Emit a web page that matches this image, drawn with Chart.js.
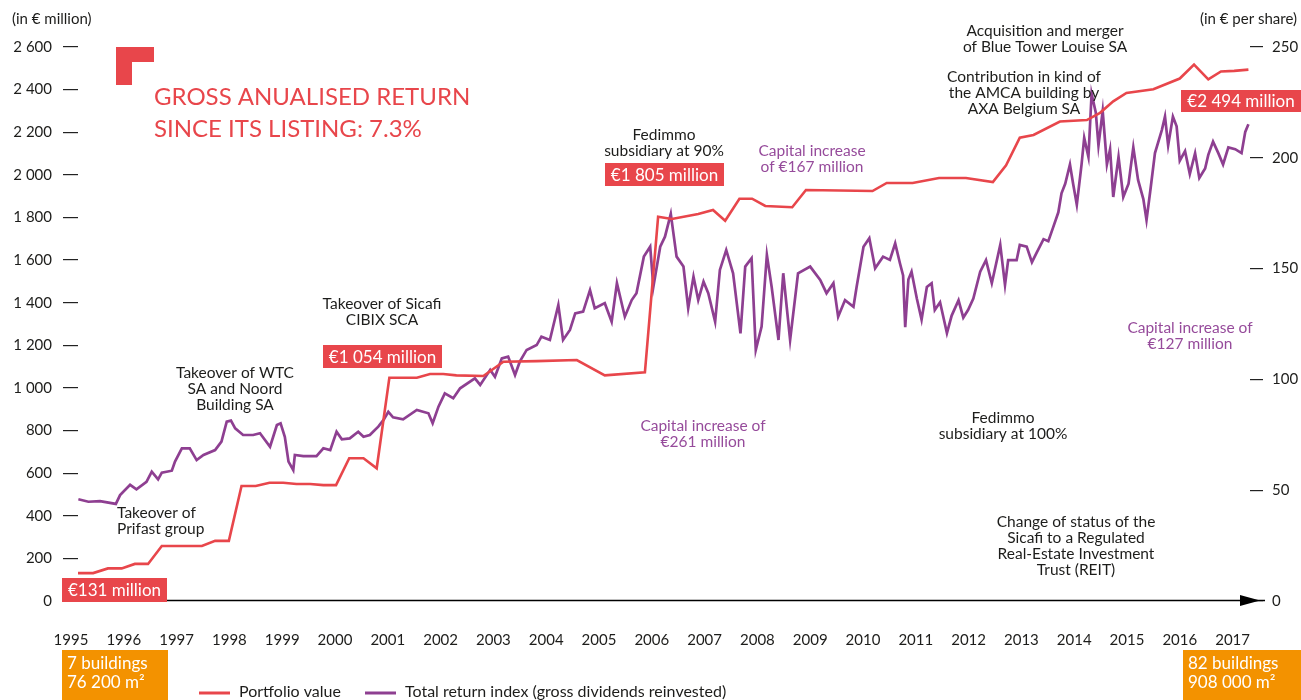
<!DOCTYPE html>
<html>
<head>
<meta charset="utf-8">
<script src="https://cdn.jsdelivr.net/npm/chart.js@4.4.0/dist/chart.umd.min.js"></script>
<style>
  html, body { margin: 0; padding: 0; background: #fff; }
  #wrap { width: 1301px; height: 700px; position: relative; }
</style>
</head>
<body>
<div id="wrap"><canvas id="chart"></canvas></div>
<script>
// Axis labels
const yearTicks = [1995, 1996, 1997, 1998, 1999, 2000, 2001, 2002, 2003, 2004, 2005, 2006,
  2007, 2008, 2009, 2010, 2011, 2012, 2013, 2014, 2015, 2016, 2017];
const leftTicks = [0, 200, 400, 600, 800, 1000, 1200, 1400, 1600, 1800, 2000, 2200, 2400, 2600]; // € million
const rightTicks = [0, 50, 100, 150, 200, 250]; // € per share

// Portfolio value (€ million)
const portfolioYears = [1995.13, 1995.42, 1995.70, 1995.96, 1996.21, 1996.46, 1996.72, 1997.48, 1997.73, 1997.99,
  1998.23, 1998.50, 1998.76, 1999.02, 1999.27, 1999.53, 1999.78, 2000.02, 2000.27, 2000.54,
  2000.79, 2001.03, 2001.55, 2001.80, 2002.05, 2002.30, 2002.81, 2003.19, 2003.82, 2004.58,
  2005.11, 2005.87, 2006.12, 2006.38, 2006.88, 2007.16, 2007.39, 2007.66, 2007.90, 2008.15,
  2008.66, 2008.92, 2010.18, 2010.45, 2010.94, 2011.44, 2011.95, 2012.46, 2012.71, 2012.97,
  2013.23, 2013.73, 2014.24, 2014.49, 2014.74, 2014.99, 2015.50, 2016.00, 2016.27, 2016.54,
  2016.78, 2017.03, 2017.30];
const portfolioValues = [131, 131, 153, 153, 174, 174, 258, 258, 282, 282,
  540, 540, 555, 555, 549, 549, 544, 544, 670, 670,
  623, 1048, 1048, 1065, 1065, 1059, 1056, 1123, 1126, 1131,
  1059, 1073, 1803, 1793, 1816, 1835, 1785, 1888, 1888, 1854,
  1848, 1929, 1924, 1962, 1962, 1985, 1985, 1966, 2045, 2174,
  2187, 2250, 2257, 2291, 2345, 2384, 2402, 2452, 2517, 2448,
  2485, 2488, 2494];

// Total return index, gross dividends reinvested (€ per share)
const indexYears = [1995.14, 1995.33, 1995.55, 1995.85, 1995.93, 1996.12, 1996.24, 1996.43, 1996.53, 1996.65,
  1996.72, 1996.91, 1996.97, 1997.10, 1997.25, 1997.38, 1997.51, 1997.73, 1997.85, 1997.95,
  1998.03, 1998.11, 1998.26, 1998.45, 1998.58, 1998.77, 1998.90, 1998.97, 1999.05, 1999.12,
  1999.21, 1999.24, 1999.40, 1999.65, 1999.78, 1999.91, 2000.03, 2000.13, 2000.28, 2000.44,
  2000.54, 2000.66, 2000.82, 2000.92, 2001.01, 2001.10, 2001.29, 2001.55, 2001.77, 2001.85,
  2001.96, 2002.08, 2002.24, 2002.37, 2002.65, 2002.75, 2002.94, 2003.03, 2003.16, 2003.28,
  2003.41, 2003.50, 2003.63, 2003.82, 2003.91, 2004.07, 2004.23, 2004.32, 2004.45, 2004.55,
  2004.70, 2004.83, 2004.92, 2005.11, 2005.24, 2005.34, 2005.49, 2005.62, 2005.71, 2005.85,
  2005.97, 2006.03, 2006.16, 2006.25, 2006.36, 2006.41, 2006.47, 2006.60, 2006.69, 2006.79,
  2006.88, 2006.98, 2007.07, 2007.20, 2007.29, 2007.41, 2007.54, 2007.68, 2007.77, 2007.89,
  2007.97, 2008.08, 2008.18, 2008.27, 2008.40, 2008.49, 2008.62, 2008.77, 2009.00, 2009.19,
  2009.31, 2009.44, 2009.53, 2009.66, 2009.82, 2009.88, 2010.01, 2010.12, 2010.23, 2010.38,
  2010.51, 2010.61, 2010.70, 2010.76, 2010.80, 2010.86, 2010.92, 2011.02, 2011.11, 2011.21,
  2011.30, 2011.36, 2011.46, 2011.59, 2011.68, 2011.81, 2011.90, 2011.99, 2012.09, 2012.22,
  2012.33, 2012.44, 2012.60, 2012.69, 2012.75, 2012.91, 2012.97, 2013.10, 2013.20, 2013.29,
  2013.42, 2013.51, 2013.60, 2013.70, 2013.76, 2013.83, 2013.92, 2013.98, 2014.05, 2014.14,
  2014.19, 2014.27, 2014.33, 2014.41, 2014.46, 2014.54, 2014.62, 2014.68, 2014.74, 2014.84,
  2014.93, 2015.03, 2015.12, 2015.21, 2015.31, 2015.37, 2015.44, 2015.53, 2015.66, 2015.72,
  2015.78, 2015.87, 2015.94, 2016.00, 2016.10, 2016.19, 2016.29, 2016.37, 2016.48, 2016.54,
  2016.63, 2016.73, 2016.82, 2016.92, 2017.05, 2017.17, 2017.24, 2017.30];
const indexValues = [45.9, 44.8, 45.1, 43.8, 47.8, 52.4, 50.4, 53.8, 58.4, 54.9,
  57.9, 58.8, 62.9, 68.9, 68.9, 63.6, 65.9, 68.1, 71.9, 80.9,
  81.4, 77.9, 74.9, 74.9, 75.7, 69.6, 79.4, 80.2, 74.1, 62.9,
  59.1, 65.9, 65.4, 65.4, 68.9, 68.1, 76.4, 73.0, 73.4, 76.4,
  74.1, 74.9, 78.7, 81.7, 85.4, 82.9, 82.0, 86.2, 84.7, 80.2,
  87.7, 93.7, 91.5, 96.0, 100.5, 97.5, 104.3, 101.2, 109.5, 110.3,
  102.0, 108.0, 113.3, 115.5, 119.3, 117.8, 133.6, 117.8, 122.3, 129.8,
  130.6, 140.3, 132.1, 134.4, 126.0, 143.4, 128.3, 135.8, 138.9, 155.4,
  159.9, 141.8, 159.9, 164.4, 174.7, 165.9, 155.4, 150.9, 132.1, 146.4,
  135.8, 144.1, 138.9, 126.0, 149.4, 158.4, 147.9, 120.8, 150.9, 154.7,
  113.3, 123.8, 156.2, 141.8, 117.8, 147.9, 117.8, 147.9, 150.9, 144.9,
  138.9, 143.4, 128.3, 135.8, 132.8, 141.8, 159.9, 163.7, 150.1, 155.4,
  153.9, 161.4, 152.4, 146.9, 123.6, 145.1, 148.6, 136.5, 127.0, 141.7,
  143.4, 131.3, 134.8, 120.9, 128.8, 135.7, 127.9, 131.3, 136.5, 148.6,
  153.8, 143.4, 160.7, 142.6, 153.8, 153.8, 160.7, 159.9, 152.9, 157.2,
  163.3, 162.4, 168.5, 175.4, 184.0, 188.3, 197.0, 188.3, 178.8, 197.0,
  209.0, 200.4, 228.9, 220.3, 205.6, 221.1, 197.0, 203.9, 182.3, 200.4,
  182.3, 188.3, 204.7, 190.0, 181.4, 171.9, 184.8, 202.1, 212.5, 218.6,
  205.6, 218.6, 214.2, 198.7, 203.0, 192.7, 202.1, 190.9, 195.2, 201.3,
  207.3, 202.1, 197.0, 204.7, 203.9, 202.1, 211.7, 215.1];

const FONT = 'Lato, "Open Sans", sans-serif';
const RED = '#e8464b';
const PURPLE = '#8e3f91';
const PURPLE_TXT = '#964b9b';
const ORANGE = '#f39200';
const INK = '#1d1d1b';

// Annotation texts (centre x, first line y)
const notes = [
  { lines: ['Takeover of', 'Prifast group'], x: 117, y: 513, align: 'left', color: INK },
  { lines: ['Takeover of WTC', 'SA and Noord', 'Building SA'], x: 235, y: 373, color: INK },
  { lines: ['Takeover of Sicafi', 'CIBIX SCA'], x: 382, y: 304, color: INK },
  { lines: ['Fedimmo', 'subsidiary at 90%'], x: 664, y: 135, color: INK },
  { lines: ['Capital increase', 'of €167 million'], x: 812, y: 151, color: PURPLE_TXT },
  { lines: ['Capital increase of', '€261 million'], x: 703, y: 426, color: PURPLE_TXT },
  { lines: ['Acquisition and merger', 'of Blue Tower Louise SA'], x: 1045, y: 31, color: INK },
  { lines: ['Contribution in kind of', 'the AMCA building by', 'AXA Belgium SA'], x: 1024, y: 77, color: INK },
  { lines: ['Capital increase of', '€127 million'], x: 1190, y: 328, color: PURPLE_TXT },
  { lines: ['Fedimmo', 'subsidiary at 100%'], x: 1003, y: 418, color: INK },
  { lines: ['Change of status of the', 'Sicafi to a Regulated', 'Real-Estate Investment', 'Trust (REIT)'], x: 1076, y: 522, color: INK }
];

const valueBoxes = [
  { text: '€131 million', x: 62, y: 578, w: 105, h: 24 },
  { text: '€1 054 million', x: 323, y: 345, w: 119, h: 23 },
  { text: '€1 805 million', x: 605, y: 163, w: 119, h: 23 },
  { text: '€2 494 million', x: 1181, y: 90, w: 120, h: 22 }
];

const buildingBoxes = [
  { lines: ['7 buildings', '76 200 m²'], x: 62, y: 650, w: 106, h: 50 },
  { lines: ['82 buildings', '908 000 m²'], x: 1183, y: 650, w: 118, h: 50 }
];

function spaced(v) {
  return v >= 1000 ? Math.floor(v / 1000) + ' ' + String(v % 1000).padStart(3, '0') : String(v);
}

const extras = {
  id: 'extras',
  afterDraw(chart) {
    const ctx = chart.ctx;
    const area = chart.chartArea;
    const y0 = chart.scales.y.getPixelForValue(0);
    ctx.save();

    // unit captions
    ctx.font = '15px ' + FONT;
    ctx.fillStyle = INK;
    ctx.textBaseline = 'middle';
    ctx.textAlign = 'left';
    ctx.fillText('(in € million)', 12, 19);
    ctx.textAlign = 'right';
    ctx.fillText('(in € per share)', 1297, 19);

    // x axis with arrow
    ctx.strokeStyle = '#000';
    ctx.lineWidth = 1.5;
    ctx.beginPath();
    ctx.moveTo(area.left - 15, Math.round(y0) - 0.5);
    ctx.lineTo(area.right + 15, Math.round(y0) - 0.5);
    ctx.stroke();
    ctx.fillStyle = '#000';
    ctx.beginPath();
    ctx.moveTo(area.right - 10, y0 - 6);
    ctx.lineTo(area.right + 10, y0 - 0.5);
    ctx.lineTo(area.right - 10, y0 + 5);
    ctx.closePath();
    ctx.fill();

    // logo corner and headline
    ctx.fillStyle = RED;
    ctx.fillRect(116, 47, 38, 15);
    ctx.fillRect(116, 47, 16, 38);
    ctx.font = '24px ' + FONT;
    ctx.textAlign = 'left';
    ctx.fillText('GROSS ANUALISED RETURN', 154, 97);
    ctx.fillText('SINCE ITS LISTING: 7.3%', 154, 129);

    // annotations
    ctx.font = '15.5px ' + FONT;
    notes.forEach(n => {
      ctx.fillStyle = n.color;
      ctx.textAlign = n.align || 'center';
      n.lines.forEach((t, i) => ctx.fillText(t, n.x, n.y + i * 16));
    });

    // value boxes
    ctx.font = '17px ' + FONT;
    ctx.textAlign = 'center';
    valueBoxes.forEach(b => {
      ctx.fillStyle = RED;
      ctx.fillRect(b.x, b.y, b.w, b.h);
      ctx.fillStyle = '#fff';
      ctx.fillText(b.text, b.x + b.w / 2, b.y + b.h / 2 + 1);
    });

    // building boxes
    ctx.font = '17px ' + FONT;
    ctx.textAlign = 'left';
    buildingBoxes.forEach(b => {
      ctx.fillStyle = ORANGE;
      ctx.fillRect(b.x, b.y, b.w, b.h);
      ctx.fillStyle = '#fff';
      ctx.fillText(b.lines[0], b.x + 5, b.y + 14);
      ctx.fillText(b.lines[1], b.x + 5, b.y + 33);
    });

    // legend
    ctx.font = '16px ' + FONT;
    ctx.fillStyle = INK;
    ctx.lineWidth = 3;
    chart.data.datasets.forEach((ds, i) => {
      const lx = i === 0 ? 199 : 365;
      ctx.strokeStyle = ds.borderColor;
      ctx.beginPath();
      ctx.moveTo(lx, 693);
      ctx.lineTo(lx + 31, 693);
      ctx.stroke();
      ctx.fillText(ds.label, lx + 40, 692);
    });
    ctx.restore();
  }
};

function initChart() {
  const ctx = document.getElementById('chart').getContext('2d');
  new Chart(ctx, {
    type: 'line',
    data: {
      datasets: [
        {
          label: 'Portfolio value',
          data: portfolioYears.map((x, i) => ({ x: x, y: portfolioValues[i] })),
          borderColor: RED,
          borderWidth: 2.6,
          pointRadius: 0,
          yAxisID: 'y'
        },
        {
          label: 'Total return index (gross dividends reinvested)',
          data: indexYears.map((x, i) => ({ x: x, y: indexValues[i] })),
          borderColor: PURPLE,
          borderWidth: 2.7,
          pointRadius: 0,
          yAxisID: 'y1'
        }
      ]
    },
    options: {
      responsive: true,
      maintainAspectRatio: false,
      animation: false,
      layout: { padding: { top: 47, bottom: 0, left: 0, right: 0 } },
      plugins: { legend: { display: false }, tooltip: { enabled: false } },
      scales: {
        x: {
          type: 'linear',
          min: 1995.133,
          max: 2017.33,
          grid: { display: false },
          border: { display: false },
          afterBuildTicks: s => { s.ticks = yearTicks.map(v => ({ value: v })); },
          afterFit: s => { s.height = 99; },
          ticks: {
            autoSkip: false, maxRotation: 0, padding: 22,
            color: INK, font: { family: FONT, size: 15 },
            callback: v => String(v)
          }
        },
        y: {
          position: 'left',
          min: 0,
          max: 2600,
          border: { display: false },
          grid: { drawOnChartArea: false, tickLength: 15, color: '#222', lineWidth: 1.2 },
          afterBuildTicks: s => { s.ticks = leftTicks.map(v => ({ value: v })); },
          afterFit: s => { s.width = 78; },
          ticks: { padding: 11, color: INK, font: { family: FONT, size: 15 }, callback: v => spaced(v) }
        },
        y1: {
          position: 'right',
          min: 0,
          max: 250,
          border: { display: false },
          grid: { drawOnChartArea: false, tickLength: 13, color: '#222', lineWidth: 1.2 },
          afterBuildTicks: s => { s.ticks = rightTicks.map(v => ({ value: v })); },
          afterFit: s => { s.width = 51; },
          ticks: { padding: 9, color: INK, font: { family: FONT, size: 15 }, callback: v => String(v) }
        }
      }
    },
    plugins: [extras]
  });
}

document.addEventListener('DOMContentLoaded', initChart);
</script>
</body>
</html>
